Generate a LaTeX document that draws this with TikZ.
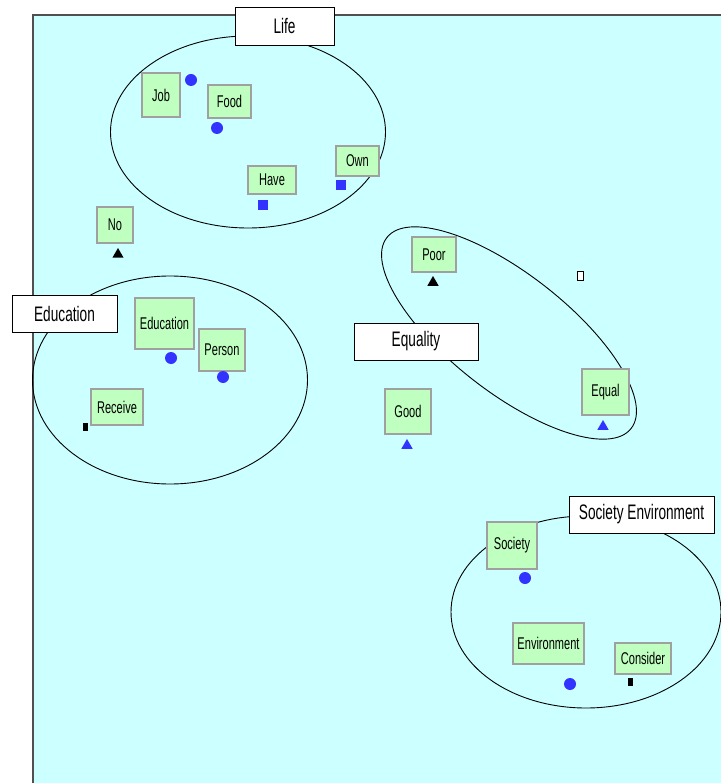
\documentclass[tikz,border=0pt]{standalone}
\usepackage{fontspec}
\usetikzlibrary{shapes.geometric}
\newfontfamily\termfont[FakeStretch=0.65]{Liberation Sans}
\definecolor{panelcyan}{RGB}{204,255,255}
\definecolor{panelline}{RGB}{80,80,80}
\definecolor{termgreen}{RGB}{191,255,191}
\definecolor{termedge}{RGB}{160,160,160}
\definecolor{markblue}{RGB}{51,51,255}
\tikzset{
  termbox/.style={draw=termedge, line width=2.4pt, fill=termgreen, inner sep=0pt,
    font=\termfont\fontsize{17}{18}\selectfont},
  groupbox/.style={draw=black, line width=0.9pt, fill=white, inner sep=0pt,
    font=\termfont\fontsize{21}{22}\selectfont},
  groupring/.style={draw=black, line width=0.9pt},
  dotmark/.style={circle, fill=#1, inner sep=0pt, minimum size=12pt},
  sqmark/.style={rectangle, fill=markblue, inner sep=0pt, minimum size=10pt},
  trimark/.style={regular polygon, regular polygon sides=3, fill=#1, inner sep=0pt, minimum size=13pt},
  barmark/.style={rectangle, fill=black, inner sep=0pt, minimum width=5pt, minimum height=8pt},
}
\begin{document}
\begin{tikzpicture}[x=1pt, y=-1pt]
\useasboundingbox (0,0) rectangle (720,783);
% background panel
\fill[panelcyan] (33,15) rectangle (722,785);
\draw[panelline, line width=1.5pt] (33,785) -- (33,15) -- (722,15);

% group rings
\draw[groupring] (248,132) ellipse [x radius=137.5, y radius=96];
\draw[groupring] (170,380) ellipse [x radius=137.5, y radius=104];
\draw[groupring, rotate around={-38:(509,333)}] (509,333) ellipse [x radius=155, y radius=59];
\draw[groupring] (586,612) ellipse [x radius=135, y radius=96];

% group labels
\node[groupbox, minimum width=99, minimum height=38] (lifelbl) at (284.5,26) {Life};
\node[groupbox, minimum width=105, minimum height=37] (edulbl) at (64.5,313.5) {Education};
\node[groupbox, minimum width=124, minimum height=37] (eqlbl) at (416,341.5) {Equality};
\node[groupbox, minimum width=145, minimum height=37] (soclbl) at (641.5,514.5) {Society Environment};

% terms
\node[termbox, minimum width=38, minimum height=44] (job) at (161,95) {Job};
\node[termbox, minimum width=43, minimum height=33] (food) at (229.5,101.5) {Food};
\node[termbox, minimum width=48, minimum height=28] (have) at (272,180) {Have};
\node[termbox, minimum width=43, minimum height=30] (own) at (357.5,161) {Own};
\node[termbox, minimum width=36, minimum height=36] (no) at (115,225) {No};
\node[termbox, minimum width=59, minimum height=51] (education) at (164.5,323.5) {Education};
\node[termbox, minimum width=46, minimum height=42] (person) at (222,350) {Person};
\node[termbox, minimum width=52, minimum height=36] (receive) at (117,407) {Receive};
\node[termbox, minimum width=44, minimum height=35] (poor) at (434,254.5) {Poor};
\node[termbox, minimum width=47, minimum height=46] (equal) at (605.5,392) {Equal};
\node[termbox, minimum width=46, minimum height=45] (good) at (408,411.5) {Good};
\node[termbox, minimum width=50, minimum height=47] (society) at (512,545.5) {Society};
\node[termbox, minimum width=71, minimum height=41] (environment) at (548.5,643.5) {Environment};
\node[termbox, minimum width=56, minimum height=31] (consider) at (643,658.5) {Consider};

% markers
\node[dotmark=markblue] (jobmk) at (191,80) {};
\node[dotmark=markblue] (foodmk) at (217,128) {};
\node[sqmark] (havemk) at (263,205) {};
\node[sqmark] (ownmk) at (341,185) {};
\node[trimark=black] (nomk) at (118,254.5) {};
\node[dotmark=markblue] (edumk) at (171,358) {};
\node[dotmark=markblue] (personmk) at (223,377) {};
\node[barmark] (receivemk) at (85.5,427) {};
\node[trimark=black] (poormk) at (433,282.5) {};
\node[rectangle, draw=black, line width=0.9pt, fill=white, inner sep=0pt,
      minimum width=6pt, minimum height=9pt] (loosemk) at (580,275.5) {};
\node[trimark=markblue] (equalmk) at (603,426.5) {};
\node[trimark=markblue] (goodmk) at (407,445.5) {};
\node[dotmark=markblue] (societymk) at (525,578) {};
\node[dotmark=markblue] (envmk) at (570,684) {};
\node[barmark] (considermk) at (630.5,682) {};
\end{tikzpicture}
\end{document}
